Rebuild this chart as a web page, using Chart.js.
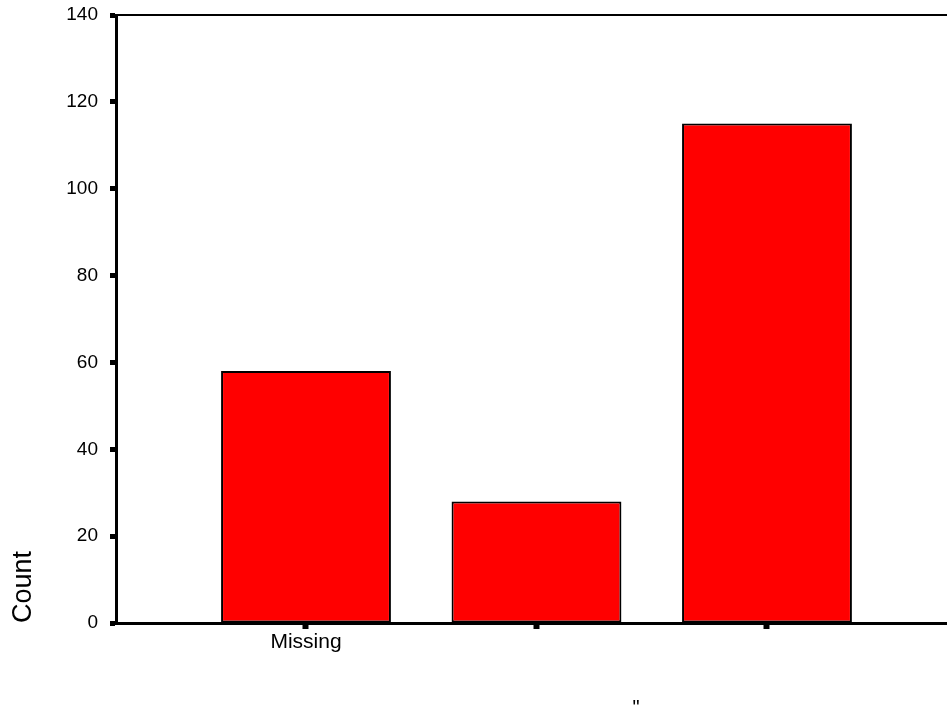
<!DOCTYPE html>
<html>
<head>
<meta charset="utf-8">
<script src="https://cdn.jsdelivr.net/npm/chart.js@4/dist/chart.umd.min.js"></script>
<style>
    html, body { margin: 0; padding: 0; overflow: hidden; background: #fff; }
    #wrap { width: 947px; height: 713px; position: relative; }
</style>
</head>
<body>
<div id="wrap"><canvas id="count-chart"></canvas></div>
<script>
// Categories and counts
const categories = ['Missing', '', ''];
const positions = [1, 2, 3];
const counts = [58, 28, 115];
const yTicks = [0, 20, 40, 60, 80, 100, 120, 140];
const xTitle = '"';

const fontFamily = '"Liberation Sans", Arial, sans-serif';

// The original x title sits off-centre (the source plot was cropped on the right),
// so draw it ourselves at a spot on the x scale
const xTitlePlugin = {
    id: 'xTitle',
    afterDraw(chart) {
        const x = chart.scales.x;
        const c = chart.ctx;
        c.save();
        c.fillStyle = '#000';
        c.font = '20px ' + fontFamily;
        c.textAlign = 'center';
        c.textBaseline = 'middle';
        c.fillText(xTitle, x.getPixelForValue(2.432), 708);
        c.restore();
    }
};

document.addEventListener("DOMContentLoaded", function () {
    const ctx = document.getElementById('count-chart');

    const points = positions.map((p, i) => ({x: p, y: counts[i]}));

    new Chart(ctx, {
        type: 'bar',
        data: {
            datasets: [{
                label: 'Count',
                data: points,
                backgroundColor: '#ff0000',
                borderColor: '#000000',
                borderWidth: 2,
                borderSkipped: false,
                categoryPercentage: 1.0,
                barPercentage: 0.737
            }]
        },
        plugins: [xTitlePlugin],
        options: {
            responsive: true,
            maintainAspectRatio: false,
            animation: false,
            layout: {
                padding: 0
            },
            plugins: {
                legend: {display: false},
                tooltip: {enabled: false}
            },
            scales: {
                x: {
                    type: 'linear',
                    position: 'bottom',
                    offset: false,
                    min: 0.1757,
                    max: 3.781,
                    afterBuildTicks: scale => {
                        scale.ticks = positions.map(v => ({value: v}));
                    },
                    afterFit: scale => {
                        scale.height = 713 - 623;
                    },
                    ticks: {
                        autoSkip: false,
                        maxRotation: 0,
                        padding: 1,
                        color: '#000',
                        font: {family: fontFamily, size: 21},
                        callback: function (value) {
                            const i = positions.indexOf(value);
                            return i >= 0 ? categories[i] : '';
                        }
                    },
                    grid: {
                        offset: false,
                        drawOnChartArea: false,
                        drawTicks: true,
                        tickLength: 6,
                        tickWidth: 6,
                        tickColor: '#000'
                    },
                    border: {display: true, color: '#000', width: 3}
                },
                x2: {
                    type: 'linear',
                    position: 'top',
                    min: 0,
                    max: 1,
                    afterFit: scale => {
                        scale.height = 15;
                    },
                    ticks: {display: false},
                    grid: {display: false},
                    border: {display: true, color: '#000', width: 2}
                },
                y: {
                    min: 0,
                    max: 140,
                    afterBuildTicks: scale => {
                        scale.ticks = yTicks.map(v => ({value: v}));
                    },
                    afterFit: scale => {
                        scale.width = 116;
                        scale.paddingTop = 0;
                        scale.paddingBottom = 0;
                    },
                    ticks: {
                        padding: 12,
                        color: '#000',
                        font: {family: fontFamily, size: 19}
                    },
                    grid: {
                        drawOnChartArea: false,
                        drawTicks: true,
                        tickLength: 6,
                        tickWidth: 5,
                        tickColor: '#000'
                    },
                    border: {display: true, color: '#000', width: 3},
                    title: {
                        display: true,
                        text: 'Count',
                        align: 'start',
                        color: '#000',
                        font: {family: fontFamily, size: 27},
                        padding: {top: 7, bottom: 0}
                    }
                }
            }
        }
    });
});
</script>
</body>
</html>
